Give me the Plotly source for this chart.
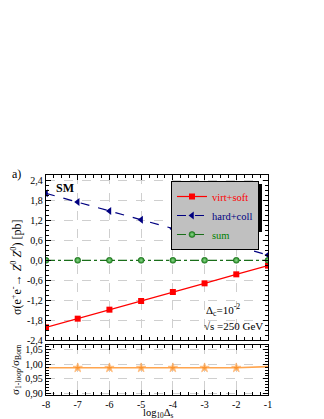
import plotly.graph_objects as go

# ---- data ----
log_ds = [-8, -7, -6, -5, -4, -3, -2, -1]
virt_soft = [-2.02, -1.76, -1.49, -1.23, -0.96, -0.70, -0.43, -0.17]
hard_coll = [2.00, 1.74, 1.47, 1.21, 0.94, 0.68, 0.41, 0.15]
sum_vals = [-0.01, -0.01, -0.01, -0.01, -0.01, -0.01, -0.01, -0.01]
ratio = [0.988, 0.988, 0.988, 0.988, 0.988, 0.988, 0.988, 0.992]

x_ticks = [-8, -7, -6, -5, -4, -3, -2, -1]
x_ticktext = ["-8", "-7", "-6", "-5", "-4", "-3", "-2", "-1"]
y_ticks = [-2.4, -1.8, -1.2, -0.6, 0.0, 0.6, 1.2, 1.8, 2.4]
y_ticktext = ["-2,4", "-1,8", "-1,2", "-0,6", "0,0", "0,6", "1,2", "1,8", "2,4"]
r_ticks = [0.90, 0.95, 1.00, 1.05]
r_ticktext = ["0,90", "0,95", "1,00", "1,05"]

W, H = 324, 419
FONT = "Liberation Serif"

def px(v):
    return v / W

def py(v):
    return (H - v) / H

fig = go.Figure()

fig.add_trace(go.Scatter(
    x=log_ds, y=virt_soft, xaxis="x2", yaxis="y2", mode="lines+markers",
    name="<span style='color:#ff0000'>virt+soft</span>",
    line=dict(color="#ff0000", width=1.2),
    marker=dict(symbol="square", size=6, color="#ff0000")))
fig.add_trace(go.Scatter(
    x=log_ds, y=hard_coll, xaxis="x2", yaxis="y2", mode="lines+markers",
    name="<span style='color:#000080'>hard+coll</span>",
    line=dict(color="#000080", width=1.2, dash="dash"),
    marker=dict(symbol="triangle-left", size=7, color="#000080")))
fig.add_trace(go.Scatter(
    x=log_ds, y=sum_vals, xaxis="x2", yaxis="y2", mode="lines+markers",
    name="<span style='color:#008000'>sum</span>",
    line=dict(color="#1a6e1a", width=1.2, dash="dashdot"),
    marker=dict(symbol="circle", size=6, color="#1e8a1e",
                gradient=dict(type="radial", color="#8fd88f"),
                line=dict(color="#0f5a0f", width=0.5))))
fig.add_trace(go.Scatter(
    x=log_ds, y=ratio, xaxis="x", yaxis="y", mode="lines+markers",
    showlegend=False,
    line=dict(color="#ffa54f", width=1.6),
    marker=dict(symbol="star", size=[0, 7, 7, 7, 7, 7, 7, 0], color="#ff8c1a")))

axis_common = dict(
    showline=True, linecolor="black", linewidth=1.3, mirror="ticks",
    ticks="inside", ticklen=5, tickwidth=1, tickcolor="black",
    showgrid=True, gridcolor="#cfcfcf", griddash="dash", gridwidth=0.8,
    zeroline=False, automargin=False,
    tickfont=dict(family=FONT, size=10, color="black"),
)

x_dom = [px(38), px(260)]

fig.update_layout(
    width=W, height=H,
    margin=dict(l=0, r=0, t=0, b=0),
    plot_bgcolor="white", paper_bgcolor="white",
    font=dict(family=FONT, size=11, color="black"),
    xaxis=dict(domain=x_dom, anchor="y", range=[-8, -1],
               tickvals=x_ticks, ticktext=x_ticktext,
               minor=dict(dtick=0.25, ticks="inside", ticklen=3, tickcolor="black", showgrid=False),
               **axis_common),
    yaxis=dict(domain=[py(387), py(337)], anchor="x", range=[0.895, 1.066],
               tickvals=r_ticks, ticktext=r_ticktext,
               minor=dict(dtick=0.01, ticks="inside", ticklen=3, tickcolor="black", showgrid=False),
               **axis_common),
    xaxis2=dict(domain=x_dom, anchor="y2", range=[-8, -1], matches="x",
                tickvals=x_ticks, ticktext=x_ticktext, showticklabels=False,
                minor=dict(dtick=0.25, ticks="inside", ticklen=3, tickcolor="black", showgrid=False),
                **axis_common),
    yaxis2=dict(domain=[py(332), py(167)], anchor="x2", range=[-2.4, 2.55],
                tickvals=y_ticks, ticktext=y_ticktext,
                minor=dict(dtick=0.15, ticks="inside", ticklen=3, tickcolor="black", showgrid=False),
                **axis_common),
    legend=dict(x=px(163), y=py(173), xanchor="left", yanchor="top",
                bgcolor="#c0c0c0", bordercolor="black", borderwidth=1,
                font=dict(family=FONT, size=10.5),
                itemwidth=30, tracegroupgap=0),
    showlegend=True,
)

# legend shadow
fig.add_shape(type="rect", xref="paper", yref="paper",
              x0=px(166), x1=px(254), y0=py(224), y1=py(176),
              fillcolor="black", line=dict(width=0), layer="above")

annos = [
    dict(x=px(8), y=py(166), text="a)", font=dict(size=12)),
    dict(x=px(57), y=py(180), text="<b>SM</b>", font=dict(size=12)),
    dict(x=px(215), y=py(302), text="Δ<sub>c</sub>=10<sup>-2</sup>", font=dict(size=11)),
    dict(x=px(225), y=py(318), text="√s =250 GeV", font=dict(size=11)),
    dict(x=px(150), y=py(405.5), text="log<sub>10</sub>Δ<sub>s</sub>", font=dict(size=10.5)),
    dict(x=px(8), y=py(260), text="σ(e<sup>+</sup>e<sup>-</sup>→ <i>Z</i><sup>0</sup> <i>Z</i><sup>0</sup>) [pb]",
         textangle=-90, font=dict(size=12)),
    dict(x=px(8), y=py(362), text="σ<sub>1-loop</sub>/σ<sub>Born</sub>",
         textangle=-90, font=dict(size=11)),
]
for a in annos:
    fig.add_annotation(xref="paper", yref="paper", showarrow=False,
                       xanchor="center", yanchor="middle", **a)

fig.write_html("out.html")
